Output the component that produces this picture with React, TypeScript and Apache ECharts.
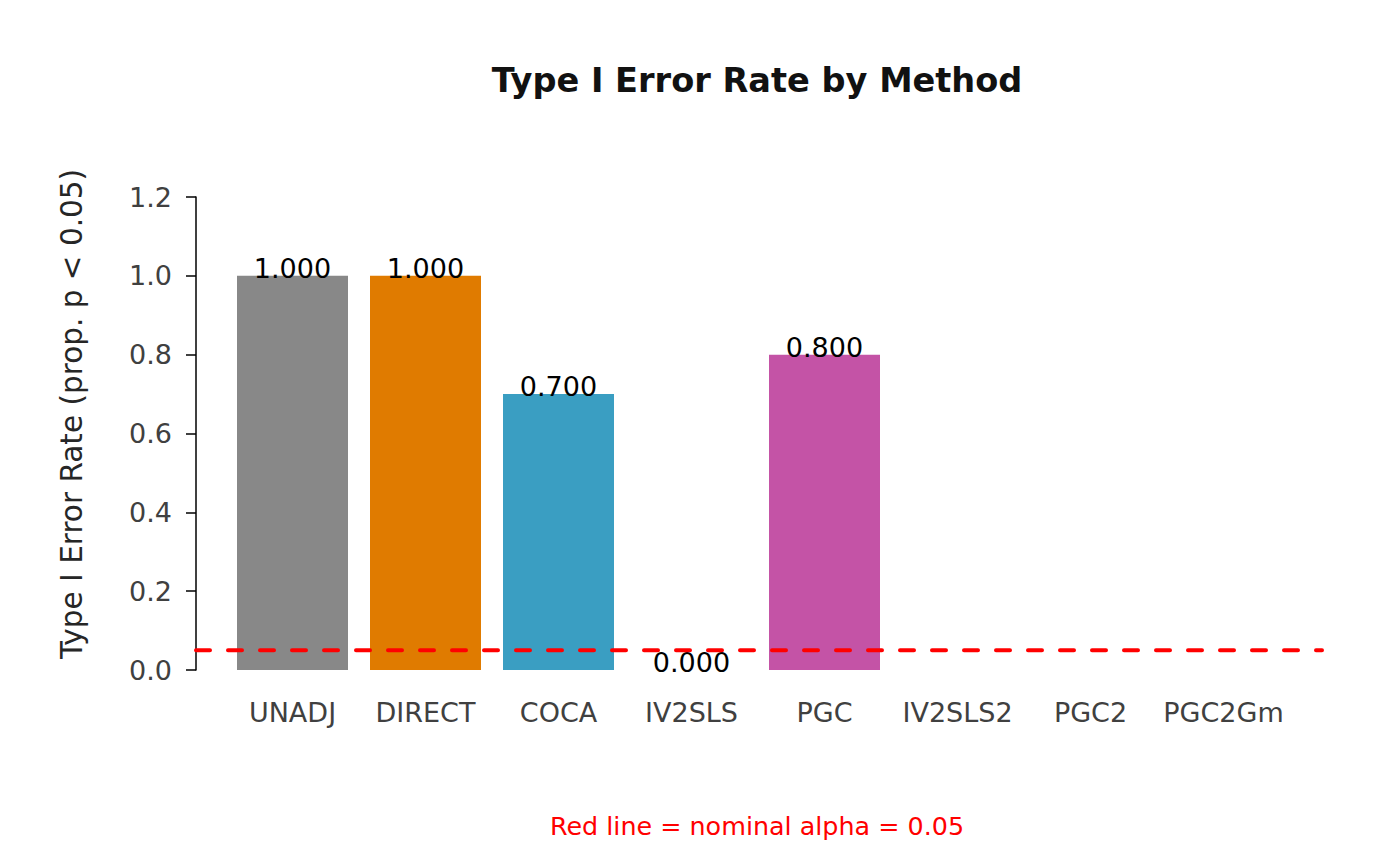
import React, { useEffect, useRef } from "react";
import * as echarts from "echarts";

const categories = ["UNADJ", "DIRECT", "COCA", "IV2SLS", "PGC", "IV2SLS2", "PGC2", "PGC2Gm"];
const rates: (number | null)[] = [1.0, 1.0, 0.7, 0.0, 0.8, null, null, null];
const barColors = ["#888888", "#E07B00", "#3A9EC2", "#56B4E9", "#C453A6", "#999999", "#999999", "#999999"];
const alpha = 0.05;
const yTicks = { min: 0, max: 1.2, interval: 0.2 };

const FONT = "DejaVu Sans";

export default function App() {
  const ref = useRef<HTMLDivElement>(null);
  useEffect(() => {
    if (!ref.current) return;
    const chart = echarts.init(ref.current, undefined, { renderer: "svg" });
    const top = 197;
    const height = 473;
    chart.setOption({
      animation: false,
      backgroundColor: "#ffffff",
      graphic: [
        {
          type: "text",
          x: 757,
          y: 80,
          style: {
            text: "Type I Error Rate by Method",
            font: `bold 33.6px '${FONT}'`,
            fill: "#111111",
            textAlign: "center",
            textVerticalAlign: "middle",
          },
        },
        {
          type: "text",
          x: 72,
          y: 414,
          rotation: Math.PI / 2,
          style: {
            text: "Type I Error Rate (prop. p < 0.05)",
            font: `29.5px '${FONT}'`,
            fill: "#262626",
            textAlign: "center",
            textVerticalAlign: "middle",
          },
        },
        {
          type: "text",
          x: 757,
          y: 826,
          style: {
            text: `Red line = nominal alpha = ${alpha}`,
            font: `25.4px '${FONT}'`,
            fill: "#ff0000",
            textAlign: "center",
            textVerticalAlign: "middle",
          },
        },
      ],
      grid: [
        { left: 226, width: 1064, top, height },
        { left: 196, width: 1126, top, height },
      ],
      xAxis: [
        {
          type: "category",
          gridIndex: 0,
          data: categories,
          axisLine: { show: false },
          axisTick: { show: false },
          axisLabel: {
            color: "#404040",
            fontFamily: FONT,
            fontSize: 27,
            margin: 29,
            interval: 0,
          },
        },
        {
          type: "value",
          gridIndex: 1,
          min: 0,
          max: 1,
          show: false,
        },
      ],
      yAxis: [
        {
          type: "value",
          gridIndex: 0,
          min: yTicks.min,
          max: yTicks.max,
          interval: yTicks.interval,
          show: false,
        },
        {
          type: "value",
          gridIndex: 1,
          min: yTicks.min,
          max: yTicks.max,
          interval: yTicks.interval,
          splitLine: { show: false },
          axisLine: { show: true, lineStyle: { color: "#000000", width: 1.5 } },
          axisTick: { show: true, inside: false, length: 10, lineStyle: { color: "#000000", width: 1.5 } },
          axisLabel: {
            color: "#404040",
            fontFamily: FONT,
            fontSize: 27,
            margin: 24,
            formatter: (v: number) => v.toFixed(1),
          },
        },
      ],
      series: [
        {
          type: "bar",
          xAxisIndex: 0,
          yAxisIndex: 0,
          barWidth: 111,
          data: rates.map((v, i) =>
            v === null ? "-" : { value: v, itemStyle: { color: barColors[i] } }
          ),
          label: {
            show: true,
            position: "top",
            distance: -6,
            color: "#000000",
            fontFamily: FONT,
            fontSize: 27,
            formatter: (p: any) => Number(p.value).toFixed(3),
          },
          z: 2,
        },
        {
          type: "line",
          xAxisIndex: 1,
          yAxisIndex: 1,
          data: [
            [0, alpha],
            [1, alpha],
          ],
          symbol: "none",
          lineStyle: { color: "#ff0000", width: 4, type: [14, 18], cap: "round" },
          z: 5,
        },
      ],
    });
    return () => chart.dispose();
  }, []);
  return (
    <div
      ref={ref}
      style={{ position: "fixed", left: 0, top: 0, width: 1400, height: 866 }}
    />
  );
}
